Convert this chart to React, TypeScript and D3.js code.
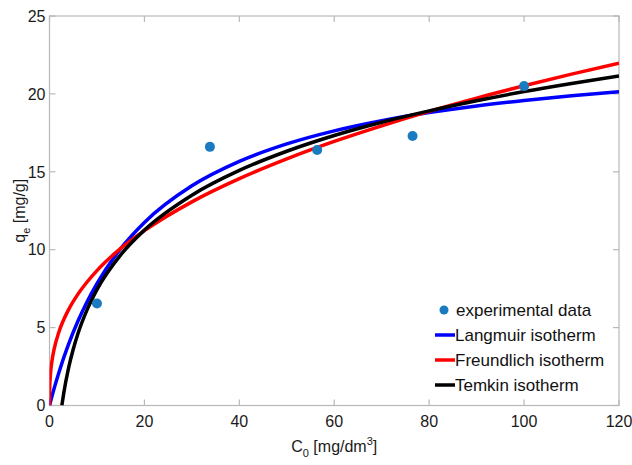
import React from "react";
import * as d3 from "d3";

// experimental points
const expC = [10, 33.8, 56.4, 76.5, 100];
const expQ = [6.55, 16.6, 16.4, 17.3, 20.5];

// fitted curves
const langC = [0, 1, 2, 4, 6, 8, 10, 15, 20, 30, 40, 50, 60, 70, 80, 90, 100, 110, 120];
const langQ = [0, 1.12, 2.14, 3.92, 5.42, 6.71, 7.83, 10.07, 11.75, 14.1, 15.67, 16.79, 17.63, 18.28, 18.8, 19.23, 19.58, 19.88, 20.14];

const freuC = [0, 0.02, 0.05, 0.2, 0.5, 1, 2, 4, 6, 8, 10, 15, 20, 30, 40, 50, 60, 70, 80, 90, 100, 110, 120];
const freuQ = [0, 0.84, 1.19, 2.0, 2.81, 3.65, 4.73, 6.14, 7.15, 7.96, 8.66, 10.08, 11.22, 13.07, 14.56, 15.83, 16.95, 17.95, 18.88, 19.73, 20.52, 21.27, 21.97];

const temkC = [2.6, 3, 4, 5, 6, 8, 10, 15, 20, 30, 40, 50, 60, 70, 80, 90, 100, 110, 120];
const temkQ = [0, 0.79, 2.38, 3.61, 4.62, 6.2, 7.44, 9.67, 11.26, 13.5, 15.09, 16.32, 17.33, 18.18, 18.91, 19.56, 20.15, 20.67, 21.15];

const xTicks = [0, 20, 40, 60, 80, 100, 120];
const yTicks = [0, 5, 10, 15, 20, 25];

const series = [
  { name: "Langmuir isotherm", color: "#0000ff", xs: langC, ys: langQ },
  { name: "Freundlich isotherm", color: "#ff0000", xs: freuC, ys: freuQ },
  { name: "Temkin isotherm", color: "#000000", xs: temkC, ys: temkQ },
];

export default function App() {
  const width = 632;
  const height = 465;
  const left = 49.5, right = 619, top = 16, bottom = 405.5;

  const x = d3.scaleLinear().domain([0, 120]).range([left, right]);
  const y = d3.scaleLinear().domain([0, 25]).range([bottom, top]);

  const line = d3
    .line<[number, number]>()
    .x((d) => x(d[0]))
    .y((d) => y(d[1]))
    .curve(d3.curveMonotoneX);

  const axisColor = "#b8b8b8";
  const font = "'Liberation Sans', Arial, sans-serif";

  return (
    <div style={{ position: "fixed", left: 0, top: 0 }}>
      <svg width={width} height={height} style={{ display: "block", background: "#fff" }} fontFamily={font}>
        <defs>
          <clipPath id="plot">
            <rect x={left} y={top} width={right - left} height={bottom - top} />
          </clipPath>
        </defs>

        {/* frame */}
        <rect x={left} y={top} width={right - left} height={bottom - top} fill="none" stroke={axisColor} strokeWidth={1.2} />

        {/* x ticks */}
        {xTicks.map((t) => (
          <g key={"x" + t}>
            <line x1={x(t)} x2={x(t)} y1={bottom} y2={bottom - 6} stroke={axisColor} strokeWidth={1.2} />
            <line x1={x(t)} x2={x(t)} y1={top} y2={top + 6} stroke={axisColor} strokeWidth={1.2} />
            <text x={x(t)} y={bottom + 21} fontSize={16} textAnchor="middle" fill="#1a1a1a">
              {t}
            </text>
          </g>
        ))}

        {/* y ticks */}
        {yTicks.map((t) => (
          <g key={"y" + t}>
            <line x1={left} x2={left + 6} y1={y(t)} y2={y(t)} stroke={axisColor} strokeWidth={1.2} />
            <line x1={right} x2={right - 6} y1={y(t)} y2={y(t)} stroke={axisColor} strokeWidth={1.2} />
            <text x={left - 4} y={y(t)} dy="0.36em" fontSize={16} textAnchor="end" fill="#1a1a1a">
              {t}
            </text>
          </g>
        ))}

        {/* curves */}
        <g clipPath="url(#plot)">
          {series.map((s) => (
            <path
              key={s.name}
              d={line(s.xs.map((c, i) => [c, s.ys[i]] as [number, number])) || ""}
              fill="none"
              stroke={s.color}
              strokeWidth={3.5}
            />
          ))}
        </g>

        {/* experimental data */}
        {expC.map((c, i) => (
          <circle key={i} cx={x(c)} cy={y(expQ[i])} r={5} fill="#1a7bc0" />
        ))}

        {/* legend */}
        <g transform="translate(435, 310)">
          <circle cx={9} cy={0} r={4.5} fill="#1a7bc0" />
          <text x={21} y={0} dy="0.35em" fontSize={17} fill="#111">
            experimental data
          </text>
          {series.map((s, i) => (
            <g key={s.name} transform={`translate(0, ${25 * (i + 1)})`}>
              <line x1={0} x2={20} y1={0} y2={0} stroke={s.color} strokeWidth={3.5} />
              <text x={20} y={0} dy="0.35em" fontSize={17} fill="#111">
                {s.name}
              </text>
            </g>
          ))}
        </g>

        {/* axis labels */}
        <text x={(left + right) / 2} y={452} fontSize={16} textAnchor="middle" fill="#1a1a1a">
          C<tspan fontSize={11} dy={5}>0</tspan>
          <tspan dy={-5}> [mg/dm</tspan>
          <tspan fontSize={11} dy={-7}>3</tspan>
          <tspan dy={7}>]</tspan>
        </text>
        <text transform={`translate(25, ${(top + bottom) / 2}) rotate(-90)`} fontSize={16} textAnchor="middle" fill="#1a1a1a">
          q<tspan fontSize={11} dy={5}>e</tspan>
          <tspan dy={-5}> [mg/g]</tspan>
        </text>
      </svg>
    </div>
  );
}
